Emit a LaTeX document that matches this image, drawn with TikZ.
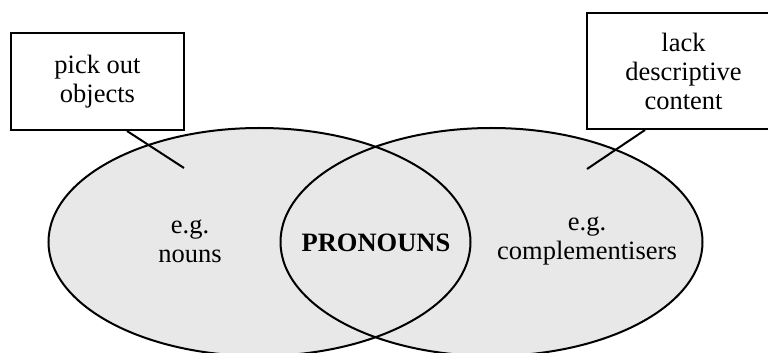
\documentclass[tikz,border=0pt]{standalone}
\usepackage{fontspec}
\setmainfont{Liberation Serif}
\usetikzlibrary{calc}
\definecolor{venngray}{HTML}{E8E8E8}
\tikzset{
  label box/.style={draw, line width=2pt, fill=white, align=center,
    minimum width=173pt, minimum height=97pt, inner sep=0pt},
  venn text/.style={align=center}
}
\begin{document}
\begin{tikzpicture}[x=1pt,y=1pt,line width=2pt,
    every node/.append style={font=\fontsize{26.5}{29}\selectfont}]
  \useasboundingbox (0,0) rectangle (768,353);
  \fill[venngray] (259.5,111) ellipse (211 and 114);
  \fill[venngray] (491.5,111) ellipse (211 and 114);
  \draw (259.5,111) ellipse (211 and 114);
  \draw (491.5,111) ellipse (211 and 114);
  \node[venn text] (nouns) at (190,112) {e.g.\\nouns};
  \node[venn text] (pron) at (376,110) {\bfseries PRONOUNS};
  \node[venn text] (comp) at (587,112) {e.g.\\complementisers};
  \node[label box] (pick) at (97.5,271.5) {pick out\\objects};
  \node[label box, minimum width=193pt, minimum height=116pt] (lack) at (683.5,282) {lack\\descriptive\\content};
  \coordinate (pickend) at (184,185);
  \coordinate (lackend) at (587,184);
  \draw ([xshift=29.5pt]pick.south) -- (pickend);
  \draw ([xshift=-38.5pt]lack.south) -- (lackend);
\end{tikzpicture}
\end{document}
